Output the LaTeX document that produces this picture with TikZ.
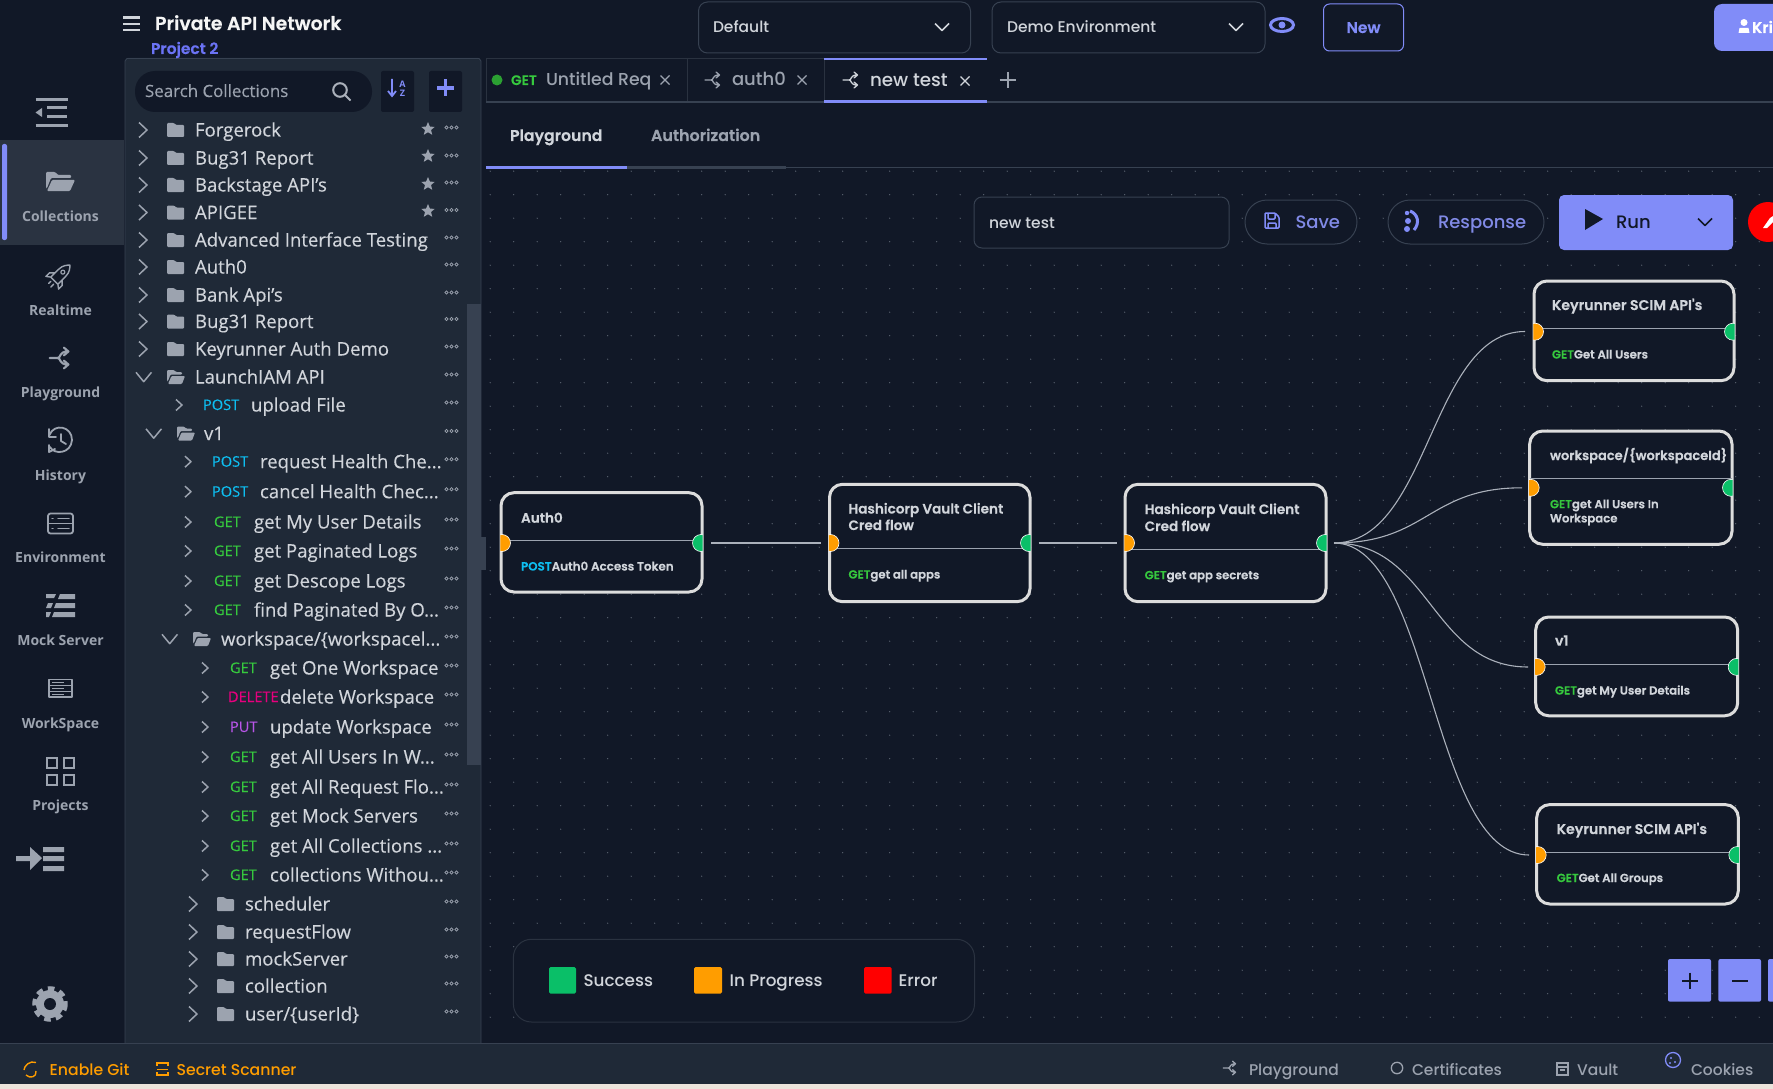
\documentclass[tikz,border=0pt]{standalone}
\usepackage{fontspec}
\setmainfont{Open Sans}[UprightFeatures={FakeBold=0.25}]
\newfontfamily\ui{Poppins}[UprightFont=* Medium,BoldFont=* SemiBold,BoldFeatures={FakeBold=0.35}]
\usetikzlibrary{calc}
\definecolor{bgc}{HTML}{111827}
\definecolor{panelc}{HTML}{1F2937}
\definecolor{selc}{HTML}{2A3341}
\definecolor{indigoc}{HTML}{818CF8}
\definecolor{projc}{HTML}{6B73F5}
\definecolor{grayc}{HTML}{9CA3AF}
\definecolor{lightc}{HTML}{D1D5DB}
\definecolor{linec}{HTML}{374151}
\definecolor{faintc}{HTML}{2A3240}
\definecolor{dotc}{HTML}{5A6270}
\definecolor{boxc}{HTML}{DCDCDC}
\definecolor{orangec}{HTML}{FF9D00}
\definecolor{greenc}{HTML}{0ABF68}
\definecolor{redc}{HTML}{FF0000}
\definecolor{postc}{HTML}{0EBEF0}
\definecolor{getc}{HTML}{36C83E}
\definecolor{delc}{HTML}{E6007E}
\definecolor{putc}{HTML}{B855E8}
\definecolor{stripc}{HTML}{ECE4DC}
\newcounter{tn}
\tikzset{
  lbl/.style={anchor=base west,inner sep=0pt,outer sep=0pt},
  lblc/.style={anchor=base,inner sep=0pt,outer sep=0pt},
  flowbox/.style={draw=boxc,fill=bgc,line width=3pt,rounded corners=13pt,inner sep=0pt,outer sep=0pt},
  divider/.style={draw=grayc,line width=0.9pt},
  edge/.style={draw=grayc!85!white,line width=1.1pt},
  ico/.style={draw=grayc,line width=1.8pt,line cap=round,line join=round},
  chev/.style={draw=grayc,line width=1.5pt,line join=round},
  pill/.style={draw=linec,line width=1pt,fill=bgc},
}
\newcommand\Tx[6]{\stepcounter{tn}\node[lbl,text=#4] (tx\arabic{tn}) at (#1,#2) {#3\fontsize{#5}{#5}\selectfont #6};}
\newcommand\Tc[6]{\stepcounter{tn}\node[lblc,text=#4] (tx\arabic{tn}) at (#1,#2) {#3\fontsize{#5}{#5}\selectfont #6};}
\newcommand\TreeDots[1]{\draw[grayc,line width=0.7pt] (446.5,#1-2.5) circle (1.6) (451.5,#1-2.5) circle (1.6) (456.5,#1-2.5) circle (1.6);}
\newcommand\ChevBig[2]{\draw[chev] (#1,#2-7.5) -- (#1+8,#2) -- (#1,#2+7.5);}
\newcommand\ChevSmall[2]{\draw[chev] (#1,#2-5.5) -- (#1+6,#2) -- (#1,#2+5.5);}
\newcommand\ChevDown[2]{\draw[chev] (#1,#2-4.7) -- (#1+7.7,#2+4.7) -- (#1+15.5,#2-4.7);}
\newcommand\FolderC[2]{\fill[grayc,rounded corners=1pt] (#1,#2-7) -- (#1+7,#2-7) -- (#1+9,#2-5) -- (#1+17,#2-5) -- (#1+17,#2+7) -- (#1,#2+7) -- cycle;}
\newcommand\FolderO[2]{\fill[grayc,rounded corners=1pt] (#1,#2-7) -- (#1+7,#2-7) -- (#1+9,#2-5) -- (#1+15,#2-5) -- (#1+15,#2-2.5) -- (#1+3.5,#2-2.5) -- (#1+1,#2+4) -- (#1,#2+4) -- cycle (#1+4.5,#2-1) -- (#1+18,#2-1) -- (#1+15,#2+7) -- (#1+1,#2+7) -- cycle;}
\newcommand\RowC[4]{\ChevBig{#2-8}{#1}\FolderC{#2+20}{#1}\Tx{#2+48}{#1+6.5}{}{lightc}{18.6}{#4}\TreeDots{#1}#3}
\newcommand\RowO[4]{\ChevDown{#2}{#1}\FolderO{#2+31}{#1}\Tx{#2+#3}{#1+6.5}{}{lightc}{18.6}{#4}\TreeDots{#1}}
\newcommand\RowR[7]{\ChevSmall{#2}{#1}\Tx{#3}{#1+5}{}{#5}{14.6}{#6}\Tx{#4}{#1+6.5}{}{lightc}{18.6}{#7}\TreeDots{#1}}
\newcommand\StarI[1]{\begin{scope}[shift={(428,#1)}]\fill[grayc] (0,-7)--(1.9,-2.4)--(6.7,-2.1)--(3,1)--(4.2,5.8)--(0,3.2)--(-4.2,5.8)--(-3,1)--(-6.7,-2.1)--(-1.9,-2.4)--cycle;\end{scope}}
\newcommand\BranchI[4]{\begin{scope}[shift={(#1,#2)},scale=#3]\draw[line width=1.3pt,line cap=round,line join=round,#4] (-8,0)--(-2,0) (-2,0) .. controls (1,0) and (-1,-5) .. (6,-5) (3,-8)--(6.5,-5)--(3,-2) (-2,0) .. controls (1,0) and (-1,5) .. (6,5) (3,2)--(6.5,5)--(3,8);\end{scope}}
\newcommand\SmallX[3]{\draw[#3,line width=1.3pt] (#1-4.5,#2-4.5)--(#1+4.5,#2+4.5) (#1-4.5,#2+4.5)--(#1+4.5,#2-4.5);}
\newcommand\DownV[4]{\draw[#4,line width=1.6pt,line join=round] (#1-7,#2-3.5)--(#1,#2+3.5)--(#1+7,#2-3.5);}
\newcommand\FlowN[7]{%
 \pgfmathsetmacro\fw{#4-#2-2}\pgfmathsetmacro\fh{#5-#3-2}\pgfmathsetmacro\fx{(#2+#4)/2}\pgfmathsetmacro\fy{(#3+#5)/2}%
 \node[flowbox,minimum width=\fw pt,minimum height=\fh pt] (#1) at (\fx,\fy) {};
 \draw[divider] (#2+1,#6) -- (#4-1,#6);
 \begin{scope}\clip (#2+0.3,#7-10) rectangle (#2+13,#7+10);\filldraw[fill=orangec,draw=white,line width=0.6pt] (#2+2,#7) circle (8.5);\end{scope}
 \begin{scope}\clip (#4-13,#7-10) rectangle (#4-0.3,#7+10);\filldraw[fill=greenc,draw=white,line width=0.6pt] (#4-2,#7) circle (8.5);\end{scope}
}
\newcommand\NT[4]{\Tx{#1}{#2+5}{\ui\bfseries}{#3}{13.6}{#4}}
\newcommand\NTb[4]{\Tx{#1}{#2+5}{\ui\bfseries}{#3}{14.1}{#4}}
\begin{document}
\begin{tikzpicture}[x=1pt,y=-1pt]
\useasboundingbox (0,0) rectangle (1773,1089);
\fill[bgc] (0,0) rectangle (1773,1089);
\fill[dotc] \foreach \i in {20,...,75}{\foreach \k in {7,...,43}{(20.2+23.5*\i,6.7+23.5*\k) circle (0.7)}};
\fill[selc] (0,140) rectangle (124,245);
\fill[indigoc,rounded corners=2pt] (2,144) rectangle (7,240);
\fill[panelc,rounded corners=3pt] (125,58) rectangle (481,1050);
\draw[linec,line width=.8pt] (125,1043) -- (125,61) -- (127,58.5) -- (479,58.5) -- (481,61) -- (481,1043);
\fill[linec] (467,304) rectangle (480.5,765);
\fill[linec] (481,537) rectangle (486,570);
\fill[panelc] (0,1043) rectangle (1773,1084);
\draw[linec,line width=1pt] (0,1043) -- (1773,1043);
\fill[stripc] (0,1084) rectangle (1773,1089);
% header
\draw[lightc,line width=2.4pt] (123,17.5)--(140,17.5) (123,24)--(140,24) (123,30)--(140,30);
\Tx{155}{30}{\ui\bfseries}{white!92!gray}{18.9}{Private API Network}
\Tx{151}{54}{\ui\bfseries}{projc}{15.5}{Project 2}
\fill[bgc,rounded corners=20pt] (135,71) rectangle (372,112);
\Tx{145}{97}{}{grayc}{16.9}{Search Collections}
\draw[grayc!85,line width=2pt] (340,90) circle (6.8) (345,95)--(350.5,100.5);
\fill[bgc,rounded corners=2pt] (381,71) rectangle (414,112);
\fill[bgc,rounded corners=2pt] (429,71) rectangle (462,112);
\draw[indigoc,line width=1.8pt] (392,79)--(392,95) (388,91)--(392,96)--(396,91);
\Tc{402.5}{88}{\bfseries}{indigoc}{9}{A}
\Tc{402.5}{97}{\bfseries}{indigoc}{9}{Z}
\draw[indigoc,line width=3.2pt] (437,88)--(454,88) (445.5,79.5)--(445.5,96.5);
% tree
\RowC{130}{147}{\StarI{129}}{Forgerock}
\RowC{158}{147}{\StarI{156}}{Bug31 Report}
\RowC{185}{147}{\StarI{184}}{Backstage API's}
\RowC{212.5}{147}{\StarI{211}}{APIGEE}
\RowC{240}{147}{}{Advanced Interface Testing}
\RowC{267}{147}{}{Auth0}
\RowC{295}{147}{}{Bank Api's}
\RowC{321.5}{147}{}{Bug31 Report}
\RowC{349}{147}{}{Keyrunner Auth Demo}
\RowO{377}{136}{59}{LaunchIAM API}
\RowR{405}{176}{203}{251}{postc}{POST}{upload File}
\RowO{433.5}{146}{58}{v1}
\RowR{461.7}{185}{212}{260}{postc}{POST}{request Health Che...}
\RowR{491.7}{185}{212}{260}{postc}{POST}{cancel Health Chec...}
\RowR{522}{185}{214}{254}{getc}{GET}{get My User Details}
\RowR{551}{185}{214}{254}{getc}{GET}{get Paginated Logs}
\RowR{581}{185}{214}{254}{getc}{GET}{get Descope Logs}
\RowR{610}{185}{214}{254}{getc}{GET}{find Paginated By O...}
\RowO{639}{162}{59}{workspace/\{workspacel...}
\RowR{668}{202}{230}{270}{getc}{GET}{get One Workspace}
\RowR{697}{202}{228}{280}{delc}{DELETE}{delete Workspace}
\RowR{727}{202}{230}{270}{putc}{PUT}{update Workspace}
\RowR{757}{202}{230}{270}{getc}{GET}{get All Users In W...}
\RowR{787}{202}{230}{270}{getc}{GET}{get All Request Flo...}
\RowR{816}{202}{230}{270}{getc}{GET}{get Mock Servers}
\RowR{846}{202}{230}{270}{getc}{GET}{get All Collections ...}
\RowR{875}{202}{230}{270}{getc}{GET}{collections Withou...}
\RowC{904}{197}{}{scheduler}
\RowC{932}{197}{}{requestFlow}
\RowC{959}{197}{}{mockServer}
\RowC{986}{197}{}{collection}
\RowC{1014}{197}{}{user/\{userId\}}
% side labels
\foreach \ly/\lt in {216/Collections,310/Realtime,392/Playground,475/History,557/Environment,640/Mock Server,723/WorkSpace,805/Projects}{\Tc{60.5}{\ly+5}{\bfseries}{grayc}{14}{\lt}}
% side icons
\draw[grayc,line width=2.2pt] (35.5,99.5)--(67.5,99.5) (47,107.5)--(67,107.5) (47,116.5)--(67,116.5) (35.5,125.5)--(67.5,125.5);
\fill[grayc] (42,108)--(35.5,112.5)--(42,117)--cycle;
\fill[grayc,rounded corners=1pt] (46,172)--(55,172)--(58,175)--(71,175)--(71,178)--(51,178)--(47,188)--(46,188)--cycle (52,180)--(75,180)--(70,191)--(47,191)--cycle;
\begin{scope}[shift={(60,275)},rotate=-45]
 \draw[ico,line width=1.4pt] (-5,8)--(-5,-3) .. controls (-5,-9) and (-2,-12) .. (0,-14) .. controls (2,-12) and (5,-9) .. (5,-3)--(5,8)--cycle (-5,2)--(-9,6)--(-9,11)--(-5,8) (5,2)--(9,6)--(9,11)--(5,8) (-2,11)--(-2,14) (2,11)--(2,15);
 \draw[ico,line width=1.2pt] (0,-4) circle (2);
\end{scope}
\BranchI{60}{358}{1.3}{grayc,line width=2.1pt}
\draw[ico] (50,447) .. controls (54,455) and (71,454) .. (72,440) .. controls (72,426) and (54,423) .. (49.5,435);
\draw[ico] (49,429)--(49,437)--(56,437) (61,434)--(61,441)--(66,444) (49,445)--(49,452)--(55,449);
\draw[ico,rounded corners=2.5pt] (48,513.5) rectangle (73,533.5);
\draw[ico,line width=1.5pt] (48,523.5)--(73,523.5) (58,518.5)--(69,518.5) (58,528.5)--(69,528.5) (52,518.5)--(53,518.5) (52,528.5)--(53,528.5);
\fill[grayc] (46,594)--(56,594)--(54,598)--(46,598)--cycle (60,594)--(75,594)--(75,599)--(58,599)--cycle (48,603)--(53,603)--(51,608)--(46,608)--cycle (56,603)--(75,603)--(75,608)--(54,608)--cycle (46,612)--(51,612)--(49,617)--(46,617)--cycle (54,612)--(75,612)--(75,617)--(52,617)--cycle;
\draw[ico,line width=1.4pt,line cap=butt] (49,679.5) rectangle (72,697) (49,685.5)--(72,685.5) (49,691.5)--(72,691.5);
\draw[grayc,line width=1.6pt] (52,682.5)--(64,682.5) (52,688.5)--(64,688.5) (52,694.5)--(64,694.5);
\draw[grayc,line width=2.6pt] (47,758) rectangle (57,768) (64,758) rectangle (74,768) (47,775) rectangle (57,785) (64,775) rectangle (74,785);
\fill[grayc] (16,856)--(30,856)--(30,847)--(42,858)--(30,870)--(30,861)--(16,861)--cycle (43,847)--(64,847)--(64,852)--(43,852)--cycle (43,856)--(64,856)--(64,861)--(43,861)--cycle (43,866)--(64,866)--(64,871)--(43,871)--cycle;
\fill[grayc] (50,1004) circle (14);
\draw[grayc,line width=4.5pt,dash pattern=on 6.5pt off 5.3pt] (50,1004) circle (15.5);
\fill[bgc] (50,1004) circle (6);
% top bar controls
\draw[pill,rounded corners=9pt] (698.5,2) rectangle (970.5,53);
\Tx{713}{33}{\ui}{lightc}{15.5}{Default}
\DownV{942}{27}{}{lightc}
\draw[pill,rounded corners=9pt] (992,2) rectangle (1265,53);
\Tx{1007}{33}{\ui}{lightc}{15.5}{Demo Environment}
\DownV{1236}{27}{}{lightc}
\draw[indigoc,line width=3pt] (1282,25) ellipse (11.5 and 6.5);
\fill[indigoc] (1282,25) circle (3.5);
\draw[indigoc,fill=bgc,line width=1pt,rounded corners=6pt] (1323.5,4) rectangle (1403.5,51);
\Tc{1363.5}{33}{\ui\bfseries}{indigoc}{15.5}{New}
\fill[indigoc,rounded corners=8pt] (1714,4) rectangle (1790,51);
\fill[white] (1744,22.5) circle (3.5) (1738.5,33)--(1739.5,28)--(1748.5,28)--(1749.5,33)--cycle;
\Tx{1752}{33}{\ui\bfseries}{white}{15.5}{Kri}
% tabs
\draw[faintc,line width=1pt] (486,103)--(486,58.5)--(987,58.5) (687,58.5)--(687,103) (824,58.5)--(824,103);
\fill[bgc] (824,58) rectangle (987,60);
\fill[linec] (486,101) rectangle (1773,103);
\fill[indigoc] (824,58) rectangle (987,60);
\fill[indigoc] (824,100) rectangle (987,103);
\fill[getc!80!black] (497,80) circle (5.5);
\Tx{511}{85}{\ui\bfseries}{getc}{13.8}{GET}
\Tx{546}{86}{\ui}{grayc}{17.3}{Untitled Req}
\SmallX{665}{80}{grayc}
\BranchI{713}{80}{1}{grayc}
\Tx{732}{86}{\ui}{grayc}{18}{auth0}
\SmallX{802}{80}{grayc}
\BranchI{851}{80}{1}{lightc}
\Tx{870}{87}{\ui}{lightc}{18.3}{new test}
\SmallX{965}{81}{lightc}
\draw[grayc,line width=2.8pt] (999.5,80)--(1016,80) (1008,72)--(1008,88.5);
% sub tabs
\Tx{510}{141}{\ui\bfseries}{lightc}{15.7}{Playground}
\Tx{651}{141}{\ui\bfseries}{grayc}{15.9}{Authorization}
\draw[linec,line width=1.5pt] (486,167.5)--(1773,167.5);
\fill[linec] (627,166)--(786,166)--(786,169)--(627,169)--cycle;
\fill[indigoc] (486,166) rectangle (627,169);
% toolbar
\draw[pill,rounded corners=8pt] (974,197) rectangle (1229,248);
\Tx{989}{228}{\ui}{lightc}{15.5}{new test}
\draw[pill,rounded corners=22pt] (1245,200) rectangle (1357,244);
\draw[indigoc,line width=1.5pt,rounded corners=1pt] (1265,213)--(1275,213)--(1279,217)--(1279,228)--(1265,228)--cycle (1268,213)--(1268,219)--(1275,219)--(1275,213) (1268,228)--(1268,223)--(1276,223)--(1276,228);
\Tx{1295.5}{228.5}{\ui}{indigoc!85!gray}{18}{Save}
\draw[pill,rounded corners=22pt] (1388,200) rectangle (1544,244);
\fill[indigoc] (1407,213) circle (2.2) (1408,221) circle (3) (1407,229) circle (3);
\draw[indigoc,line width=3pt] (1410,211) .. controls (1418,214) and (1420,223) .. (1414,230);
\Tx{1438}{228.5}{\ui}{indigoc!85!gray}{18}{Response}
\fill[indigoc,rounded corners=5pt] (1559,195) rectangle (1733,250);
\fill[bgc] (1585,209)--(1603,219)--(1585,230)--cycle;
\Tx{1616}{228.5}{\ui}{bgc}{18}{Run}
\DownV{1705}{222}{}{bgc}
\fill[redc] (1768,222) circle (20);
\fill[white] (1763,228)--(1770,218)--(1773,216)--(1773,222)--(1767,228)--cycle;
% flow nodes
\FlowN{auth}{500}{491.7}{703}{593}{540}{543}
\NT{521}{517.7}{lightc}{Auth0}
\Tx{521}{570.5}{\ui\bfseries}{postc}{11.9}{POST\textcolor{lightc}{Auth0 Access Token}}
\FlowN{vaulta}{828.5}{483.3}{1031}{602.7}{548.7}{543}
\NT{848.5}{508.5}{lightc}{Hashicorp Vault Client}
\NT{848.5}{525}{lightc}{Cred flow}
\Tx{848.5}{578.5}{\ui\bfseries}{getc}{11.7}{GET\textcolor{lightc}{get all apps}}
\FlowN{vaultb}{1124}{483.3}{1327}{602.7}{549.3}{543}
\NT{1144.7}{509}{lightc}{Hashicorp Vault Client}
\NT{1144.7}{526}{lightc}{Cred flow}
\Tx{1144.7}{579.2}{\ui\bfseries}{getc}{11.7}{GET\textcolor{lightc}{get app secrets}}
\FlowN{scima}{1533}{280}{1735}{381.7}{328}{331.7}
\NTb{1552}{305}{lightc}{Keyrunner SCIM API's}
\Tx{1552}{358.5}{\ui\bfseries}{getc}{11.7}{GET\textcolor{lightc}{Get All Users}}
\FlowN{wspace}{1528.7}{430}{1733}{545.3}{478.5}{487.8}
\begin{scope}\clip (1535,440) rectangle (1731.5,470);\Tx{1550}{460}{\ui\bfseries}{lightc}{13}{workspace/\{workspaceId\}}\end{scope}
\Tx{1550}{508.2}{\ui\bfseries}{getc}{11.7}{GET\textcolor{lightc}{get All Users In}}
\Tx{1550}{522.4}{\ui\bfseries}{lightc}{11.7}{Workspace}
\FlowN{vone}{1534.7}{616}{1738.7}{716.8}{664}{666.9}
\NTb{1555}{640.7}{lightc}{v1}
\Tx{1555}{694.5}{\ui\bfseries}{getc}{11.7}{GET\textcolor{lightc}{get My User Details}}
\FlowN{scimb}{1535.7}{803.6}{1739.3}{905}{852}{855}
\NTb{1556.7}{829}{lightc}{Keyrunner SCIM API's}
\Tx{1556.7}{882}{\ui\bfseries}{getc}{11.7}{GET\textcolor{lightc}{Get All Groups}}
% connector ends
\coordinate (authout) at (711,543);
\coordinate (vaultain) at (821,543);
\coordinate (vaultaout) at (1038.5,543);
\coordinate (vaultbin) at (1117,543);
\coordinate (vaultbout) at (1334,543);
\coordinate (scimain) at (1525,331.5);
\coordinate (wspacein) at (1522,487.8);
\coordinate (voneinp) at (1528,667);
\coordinate (scimbin) at (1529,855);
\draw[edge,line width=1.6pt] (authout) -- (vaultain);
\draw[edge,line width=1.6pt] (vaultaout) -- (vaultbin);
\draw[edge] (vaultbout) .. controls (1430,543) and (1430,331.5) .. (scimain);
\draw[edge] (vaultbout) .. controls (1428,543) and (1428,487.8) .. (wspacein);
\draw[edge] (vaultbout) .. controls (1431,543) and (1431,667) .. (voneinp);
\draw[edge] (vaultbout) .. controls (1431,543) and (1431,855) .. (scimbin);
% legend
\draw[faintc,fill=bgc,line width=1pt,rounded corners=18pt] (513.4,939.3) rectangle (974.5,1022);
\fill[greenc,rounded corners=1.5pt] (549,967) rectangle (576,993.7);
\Tx{583.5}{986}{\ui}{lightc}{16.8}{Success}
\fill[orangec,rounded corners=1.5pt] (694,967) rectangle (722,993.7);
\Tx{729.6}{986}{\ui}{lightc}{16.8}{In Progress}
\fill[redc,rounded corners=1.5pt] (864,967) rectangle (891.6,993.7);
\Tx{898.6}{986}{\ui}{lightc}{16.8}{Error}
% zoom buttons
\fill[indigoc,rounded corners=2pt] (1668,959) rectangle (1711,1001.7);
\fill[indigoc,rounded corners=2pt] (1718.4,959) rectangle (1761,1001.7);
\fill[indigoc,rounded corners=2pt] (1768,959) rectangle (1790,1001.7);
\draw[bgc,line width=2pt] (1682,980.5)--(1698,980.5) (1690,972.5)--(1690,988.5) (1732,980.5)--(1748,980.5);
% bottom bar content
\draw[orangec,line width=1.4pt] (36,1062.5) .. controls (30,1060) and (24,1066) .. (24,1070) (26,1075) .. controls (30,1079) and (37,1077) .. (36,1071);
\Tx{49.7}{1075}{\ui}{orangec}{15.7}{Enable Git}
\draw[orangec,line width=1.3pt] (157,1066)--(157,1063)--(168,1063)--(168,1066) (157,1072)--(157,1075)--(168,1075)--(168,1072);
\draw[orangec,line width=.8pt] (157,1069)--(168,1069);
\Tx{176.6}{1075}{\ui}{orangec}{15.7}{Secret Scanner}
\BranchI{1230}{1068}{0.85}{grayc}
\Tx{1249}{1075}{\ui}{grayc}{15.5}{Playground}
\draw[grayc,line width=1.3pt] (1397,1068) circle (5.7);
\Tx{1412}{1075}{\ui}{grayc}{15.5}{Certificates}
\draw[grayc,line width=1.3pt] (1557,1063) rectangle (1568,1075) (1557,1067)--(1568,1067) (1560,1070)--(1565,1070);
\Tx{1577}{1075}{\ui}{grayc}{15.5}{Vault}
\draw[indigoc,line width=1.3pt] (1673,1060) circle (7.5);
\fill[indigoc] (1671,1058) circle (1.1) (1675,1062) circle (1.1) (1670,1063) circle (1.1);
\Tx{1691}{1075}{\ui}{grayc}{15.5}{Cookies}
\end{tikzpicture}
\end{document}
